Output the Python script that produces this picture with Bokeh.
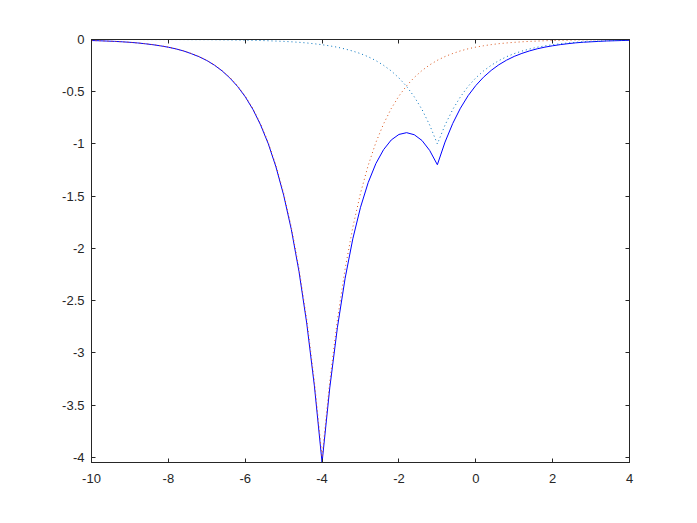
from bokeh.plotting import figure
from bokeh.models import Range1d, FixedTicker, LinearAxis
from bokeh.embed import file_html
from bokeh.resources import INLINE

# x samples
x = [-10.0, -9.8, -9.6, -9.4, -9.2, -9.0, -8.8, -8.6, -8.4, -8.2,
     -8.0, -7.8, -7.6, -7.4, -7.2, -7.0, -6.8, -6.6, -6.4, -6.2,
     -6.0, -5.8, -5.6, -5.4, -5.2, -5.0, -4.8, -4.6, -4.4, -4.2,
     -4.0, -3.8, -3.6, -3.4, -3.2, -3.0, -2.8, -2.6, -2.4, -2.2,
     -2.0, -1.8, -1.6, -1.4, -1.2, -1.0, -0.8, -0.6, -0.4, -0.2,
     0.0, 0.2, 0.4, 0.6, 0.8, 1.0, 1.2, 1.4, 1.6, 1.8,
     2.0, 2.2, 2.4, 2.6, 2.8, 3.0, 3.2, 3.4, 3.6, 3.8, 4.0]

# deep component (centre -4)
deep = [-0.010, -0.012, -0.015, -0.018, -0.022, -0.027, -0.033, -0.040, -0.049, -0.060,
        -0.073, -0.089, -0.109, -0.134, -0.163, -0.199, -0.243, -0.297, -0.363, -0.443,
        -0.541, -0.661, -0.808, -0.986, -1.205, -1.472, -1.797, -2.195, -2.681, -3.275,
        -4.000, -3.275, -2.681, -2.195, -1.797, -1.472, -1.205, -0.986, -0.808, -0.661,
        -0.541, -0.443, -0.363, -0.297, -0.243, -0.199, -0.163, -0.134, -0.109, -0.089,
        -0.073, -0.060, -0.049, -0.040, -0.033, -0.027, -0.022, -0.018, -0.015, -0.012,
        -0.010, -0.008, -0.007, -0.005, -0.004, -0.004, -0.003, -0.002, -0.002, -0.002, -0.001]

# shallow component (centre -1)
shallow = [0.000, 0.000, 0.000, 0.000, 0.000, 0.000, 0.000, -0.001, -0.001, -0.001,
           -0.001, -0.001, -0.001, -0.002, -0.002, -0.002, -0.003, -0.004, -0.005, -0.006,
           -0.007, -0.008, -0.010, -0.012, -0.015, -0.018, -0.022, -0.027, -0.033, -0.041,
           -0.050, -0.061, -0.074, -0.091, -0.111, -0.135, -0.165, -0.202, -0.247, -0.301,
           -0.368, -0.449, -0.549, -0.670, -0.819, -1.000, -0.819, -0.670, -0.549, -0.449,
           -0.368, -0.301, -0.247, -0.202, -0.165, -0.135, -0.111, -0.091, -0.074, -0.061,
           -0.050, -0.041, -0.033, -0.027, -0.022, -0.018, -0.015, -0.012, -0.010, -0.008, -0.007]

# total
total = [-0.010, -0.012, -0.015, -0.018, -0.022, -0.027, -0.033, -0.041, -0.050, -0.061,
         -0.074, -0.090, -0.110, -0.136, -0.165, -0.201, -0.246, -0.301, -0.368, -0.449,
         -0.548, -0.669, -0.818, -0.998, -1.220, -1.490, -1.819, -2.222, -2.714, -3.316,
         -4.050, -3.336, -2.755, -2.286, -1.908, -1.607, -1.370, -1.188, -1.055, -0.962,
         -0.909, -0.892, -0.912, -0.967, -1.062, -1.199, -0.982, -0.804, -0.658, -0.538,
         -0.441, -0.361, -0.296, -0.242, -0.198, -0.162, -0.133, -0.109, -0.089, -0.073,
         -0.060, -0.049, -0.040, -0.032, -0.026, -0.022, -0.018, -0.014, -0.012, -0.010, -0.008]

x_ticks = [-10, -8, -6, -4, -2, 0, 2, 4]
y_ticks = [-4, -3.5, -3, -2.5, -2, -1.5, -1, -0.5, 0]

AX = "#262626"
FONT = "Liberation Sans"

p = figure(width=679, height=508, output_backend="svg", toolbar_location=None,
           x_range=Range1d(-10, 4), y_range=Range1d(-4.05, 0),
           min_border_left=91, min_border_top=39, min_border_right=50, min_border_bottom=46)
p.background_fill_color = "white"
p.border_fill_color = "white"
p.xgrid.visible = False
p.ygrid.visible = False
p.outline_line_color = AX
p.outline_line_width = 1

p.line(x, total, line_color="#0000FF", line_width=1)
p.line(x, shallow, line_color="#0072BD", line_width=1, line_dash="1 3")
p.line(x, deep, line_color="#D95319", line_width=1, line_dash="1 3")

def style(ax, ticks, show_labels, standoff):
    ax.ticker = FixedTicker(ticks=ticks)
    ax.minor_tick_line_color = None
    ax.major_tick_in = 4
    ax.major_tick_out = 0
    ax.major_tick_line_color = AX
    ax.axis_line_color = AX
    ax.major_label_text_font = FONT
    ax.major_label_text_font_size = "13px"
    ax.major_label_text_color = AX if show_labels else None
    ax.major_label_standoff = standoff

style(p.xaxis[0], x_ticks, True, 11)
style(p.yaxis[0], y_ticks, True, 7)
p.xaxis[0].major_label_overrides = {v: str(v) for v in x_ticks}
p.yaxis[0].major_label_overrides = {v: ("%g" % v) for v in y_ticks}

top = LinearAxis()
style(top, x_ticks, False, 0)
top.major_label_text_font_size = "0px"
p.add_layout(top, "above")
right = LinearAxis()
style(right, y_ticks, False, 0)
right.major_label_text_font_size = "0px"
p.add_layout(right, "right")

open("out.html", "w").write(file_html(p, INLINE))
